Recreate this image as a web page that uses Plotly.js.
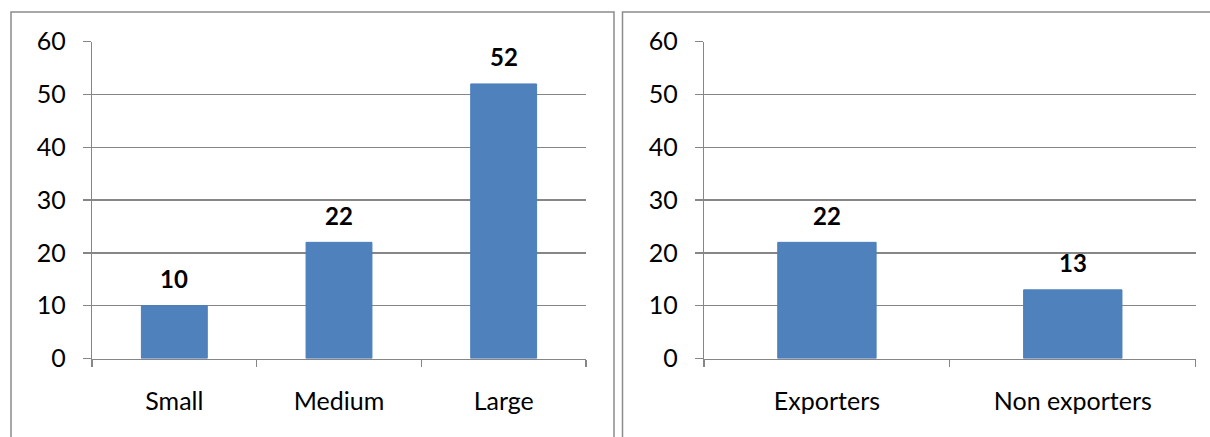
<!DOCTYPE html>
<html>
<head>
<meta charset="utf-8">
<script src="https://cdn.plot.ly/plotly-3.0.1.min.js"></script>
<style>
html,body{margin:0;padding:0;background:#fff;}
#chart{width:1210px;height:437px;}
</style>
</head>
<body>
<div id="chart"></div>
<script>
// Data
const sizeCategories = ["Small", "Medium", "Large"];
const sizeValues = [10, 22, 52];
const exportCategories = ["Exporters", "Non exporters"];
const exportValues = [22, 13];
const yTickValues = [0, 10, 20, 30, 40, 50, 60];

const W = 1210, H = 437;
const px = v => v / W;
const py = v => 1 - v / H;

const barColor = "#4F81BD";
const gridColor = "#868686";
const fontFam = "Lato, 'Open Sans', sans-serif";

const traces = [
  {type: "bar", x: sizeCategories, y: sizeValues, xaxis: "x", yaxis: "y",
   marker: {color: barColor, line: {color: "#4A7EBB", width: 1}}, hoverinfo: "none"},
  {type: "bar", x: exportCategories, y: exportValues, xaxis: "x2", yaxis: "y2",
   marker: {color: barColor, line: {color: "#4A7EBB", width: 1}}, hoverinfo: "none"}
];

function xAx(domain) {
  return {
    domain: domain, type: "category", showgrid: false, zeroline: false,
    showline: true, linecolor: gridColor, linewidth: 1.3,
    ticks: "outside", tickson: "boundaries", ticklen: 7, tickcolor: gridColor, tickwidth: 1.3,
    tickfont: {family: fontFam, size: 25, color: "#000"}, ticklabelstandoff: 20,
    fixedrange: true
  };
}
function yAx(anchor) {
  return {
    domain: [py(358.5), py(41.7)], anchor: anchor, range: [0, 60],
    tickvals: yTickValues, showgrid: true, gridcolor: gridColor, gridwidth: 1.3,
    zeroline: false, showline: true, linecolor: gridColor, linewidth: 1.3,
    ticks: "outside", ticklen: 8, tickcolor: gridColor, tickwidth: 1.3,
    tickfont: {family: fontFam, size: 25, color: "#000"}, ticklabelstandoff: 12,
    fixedrange: true
  };
}

const annotations = [];
sizeCategories.forEach((c, i) => annotations.push({
  x: c, y: sizeValues[i], xref: "x", yref: "y", text: "<b>" + sizeValues[i] + "</b>",
  showarrow: false, yanchor: "middle", yshift: 27,
  font: {family: fontFam, size: 24, color: "#000"}
}));
exportCategories.forEach((c, i) => annotations.push({
  x: c, y: exportValues[i], xref: "x2", yref: "y2", text: "<b>" + exportValues[i] + "</b>",
  showarrow: false, yanchor: "middle", yshift: 27,
  font: {family: fontFam, size: 24, color: "#000"}
}));

const layout = {
  width: W, height: H, margin: {l: 0, r: 0, t: 0, b: 0},
  paper_bgcolor: "#fff", plot_bgcolor: "#fff", showlegend: false,
  bargap: 0.6,
  xaxis: Object.assign(xAx([px(92), px(586)]), {anchor: "y"}),
  yaxis: yAx("x"),
  xaxis2: Object.assign(xAx([px(704), px(1195.7)]), {anchor: "y2"}),
  yaxis2: yAx("x2"),
  annotations: annotations,
  shapes: [
    {type: "rect", xref: "paper", yref: "paper", x0: px(11), x1: px(614), y0: py(460), y1: py(12),
     line: {color: "#8C8C8C", width: 1.5}},
    {type: "rect", xref: "paper", yref: "paper", x0: px(622.5), x1: px(1230), y0: py(460), y1: py(12),
     line: {color: "#8C8C8C", width: 1.5}}
  ]
};

Plotly.newPlot("chart", traces, layout, {displayModeBar: false, staticPlot: true});
</script>
</body>
</html>
